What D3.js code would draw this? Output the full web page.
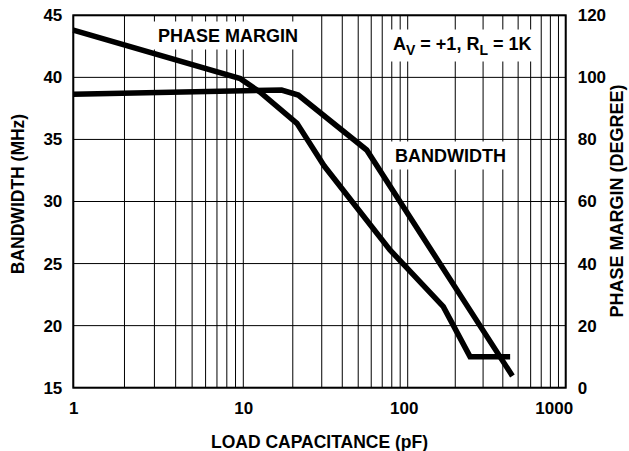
<!DOCTYPE html>
<html>
<head>
  <script src="https://d3js.org/d3.v7.min.js"></script>
  <style>
    body { margin: 0; background: #fff; }
    text { font-family: "Liberation Sans", Arial, sans-serif; font-weight: bold; fill: #000; }
  </style>
</head>
<body>
<div id="chart"></div>
<script>
// load capacitance (pF) vs phase margin (degree), right axis
var pmCap = [1, 9.6, 12.6, 21.2, 31, 78, 168, 248, 445];
var pmDeg = [115.2, 99.6, 95.3, 85.2, 71.5, 44.4, 26.1, 10.0, 10.0];

// load capacitance (pF) vs bandwidth (MHz), left axis
var bwCap = [1, 17.1, 21.6, 56.3, 460];
var bwMHz = [38.64, 38.98, 38.58, 34.15, 15.94];

var xTickLabels = [1, 10, 100, 1000];
var yLeftTicks = [15, 20, 25, 30, 35, 40, 45];
var yRightTicks = [0, 20, 40, 60, 80, 100, 120];

var width = 629, height = 451;
var plotL = 73.3, plotR = 565.7, plotT = 15.3, plotB = 387.7;

var svg = d3.select('#chart').append('svg')
  .attr('width', width)
  .attr('height', height);

// the printed decades are not quite even, so map each decade separately
var x = d3.scaleLog()
  .domain([1, 10, 100, 1000])
  .range([plotL, 243.3, 407.7, plotR]);

var yL = d3.scaleLinear().domain([15, 45]).range([plotB, plotT]);
var yR = d3.scaleLinear().domain([0, 120]).range([plotB, plotT]);

// grid
var grid = svg.append('g').attr('stroke', '#000').attr('stroke-width', 1);
grid.selectAll('.vline')
  .data(x.ticks())
  .enter().append('line')
  .attr('class', 'vline')
  .attr('x1', function(d) { return x(d); })
  .attr('x2', function(d) { return x(d); })
  .attr('y1', plotT)
  .attr('y2', plotB);
grid.selectAll('.hline')
  .data(yLeftTicks)
  .enter().append('line')
  .attr('class', 'hline')
  .attr('x1', plotL)
  .attr('x2', plotR)
  .attr('y1', function(d) { return yL(d); })
  .attr('y2', function(d) { return yL(d); });

svg.append('rect')
  .attr('x', plotL).attr('y', plotT)
  .attr('width', plotR - plotL).attr('height', plotB - plotT)
  .attr('fill', 'none').attr('stroke', '#000').attr('stroke-width', 2);

// axes (labels only)
var xAxis = svg.append('g')
  .attr('transform', 'translate(0,' + plotB + ')')
  .call(d3.axisBottom(x).tickValues(xTickLabels).tickFormat(d3.format('d')).tickSize(0).tickPadding(14));
xAxis.selectAll('text').attr('dx', function(d) { return d === 1000 ? -12 : (d === 100 ? -4 : 0); });

var yAxisL = svg.append('g')
  .attr('transform', 'translate(' + plotL + ',0)')
  .call(d3.axisLeft(yL).tickValues(yLeftTicks).tickSize(0).tickPadding(11));

var yAxisR = svg.append('g')
  .attr('transform', 'translate(' + plotR + ',0)')
  .call(d3.axisRight(yR).tickValues(yRightTicks).tickSize(0).tickPadding(12));

[xAxis, yAxisL, yAxisR].forEach(function(a) {
  a.select('.domain').remove();
  a.selectAll('text')
    .attr('font-family', '"Liberation Sans", Arial, sans-serif')
    .attr('font-weight', 'bold')
    .attr('font-size', 17)
    .attr('fill', '#000');
});

// axis titles
svg.append('text')
  .attr('x', 319.5).attr('y', 448)
  .attr('text-anchor', 'middle')
  .attr('font-size', 17.5)
  .text('LOAD CAPACITANCE (pF)');

svg.append('text')
  .attr('transform', 'translate(24,194) rotate(-90)')
  .attr('text-anchor', 'middle')
  .attr('font-size', 17.5)
  .text('BANDWIDTH (MHz)');

svg.append('text')
  .attr('transform', 'translate(623,201) rotate(-90)')
  .attr('text-anchor', 'middle')
  .attr('font-size', 18)
  .text('PHASE MARGIN (DEGREE)');

// boxed labels inside the plot
function boxedLabel(px, py, anchor, build) {
  var g = svg.append('g');
  var box = g.append('rect').attr('fill', '#fff');
  var t = g.append('text')
    .attr('x', px).attr('y', py)
    .attr('text-anchor', anchor)
    .attr('font-size', 18);
  build(t);
  var b = t.node().getBBox();
  box.attr('x', b.x - 6).attr('y', b.y - 4)
    .attr('width', b.width + 12).attr('height', b.height + 8);
}

boxedLabel(228, 41.5, 'middle', function(t) { t.text('PHASE MARGIN'); });
boxedLabel(393, 49.5, 'start', function(t) {
  t.append('tspan').text('A');
  t.append('tspan').attr('font-size', 14).attr('dy', 5).text('V');
  t.append('tspan').attr('dy', -5).text(' = +1, R');
  t.append('tspan').attr('font-size', 14).attr('dy', 5).text('L');
  t.append('tspan').attr('dy', -5).text(' = 1K');
});
boxedLabel(395, 161.5, 'start', function(t) { t.text('BANDWIDTH'); });

// curves
var pmLine = d3.line()
  .x(function(d, i) { return x(pmCap[i]); })
  .y(function(d) { return yR(d); });
var bwLine = d3.line()
  .x(function(d, i) { return x(bwCap[i]); })
  .y(function(d) { return yL(d); });

svg.append('path')
  .attr('d', pmLine(pmDeg))
  .attr('fill', 'none').attr('stroke', '#000').attr('stroke-width', 5.5)
  .attr('stroke-linejoin', 'miter');
svg.append('path')
  .attr('d', bwLine(bwMHz))
  .attr('fill', 'none').attr('stroke', '#000').attr('stroke-width', 5.5)
  .attr('stroke-linejoin', 'miter');
</script>
</body>
</html>
